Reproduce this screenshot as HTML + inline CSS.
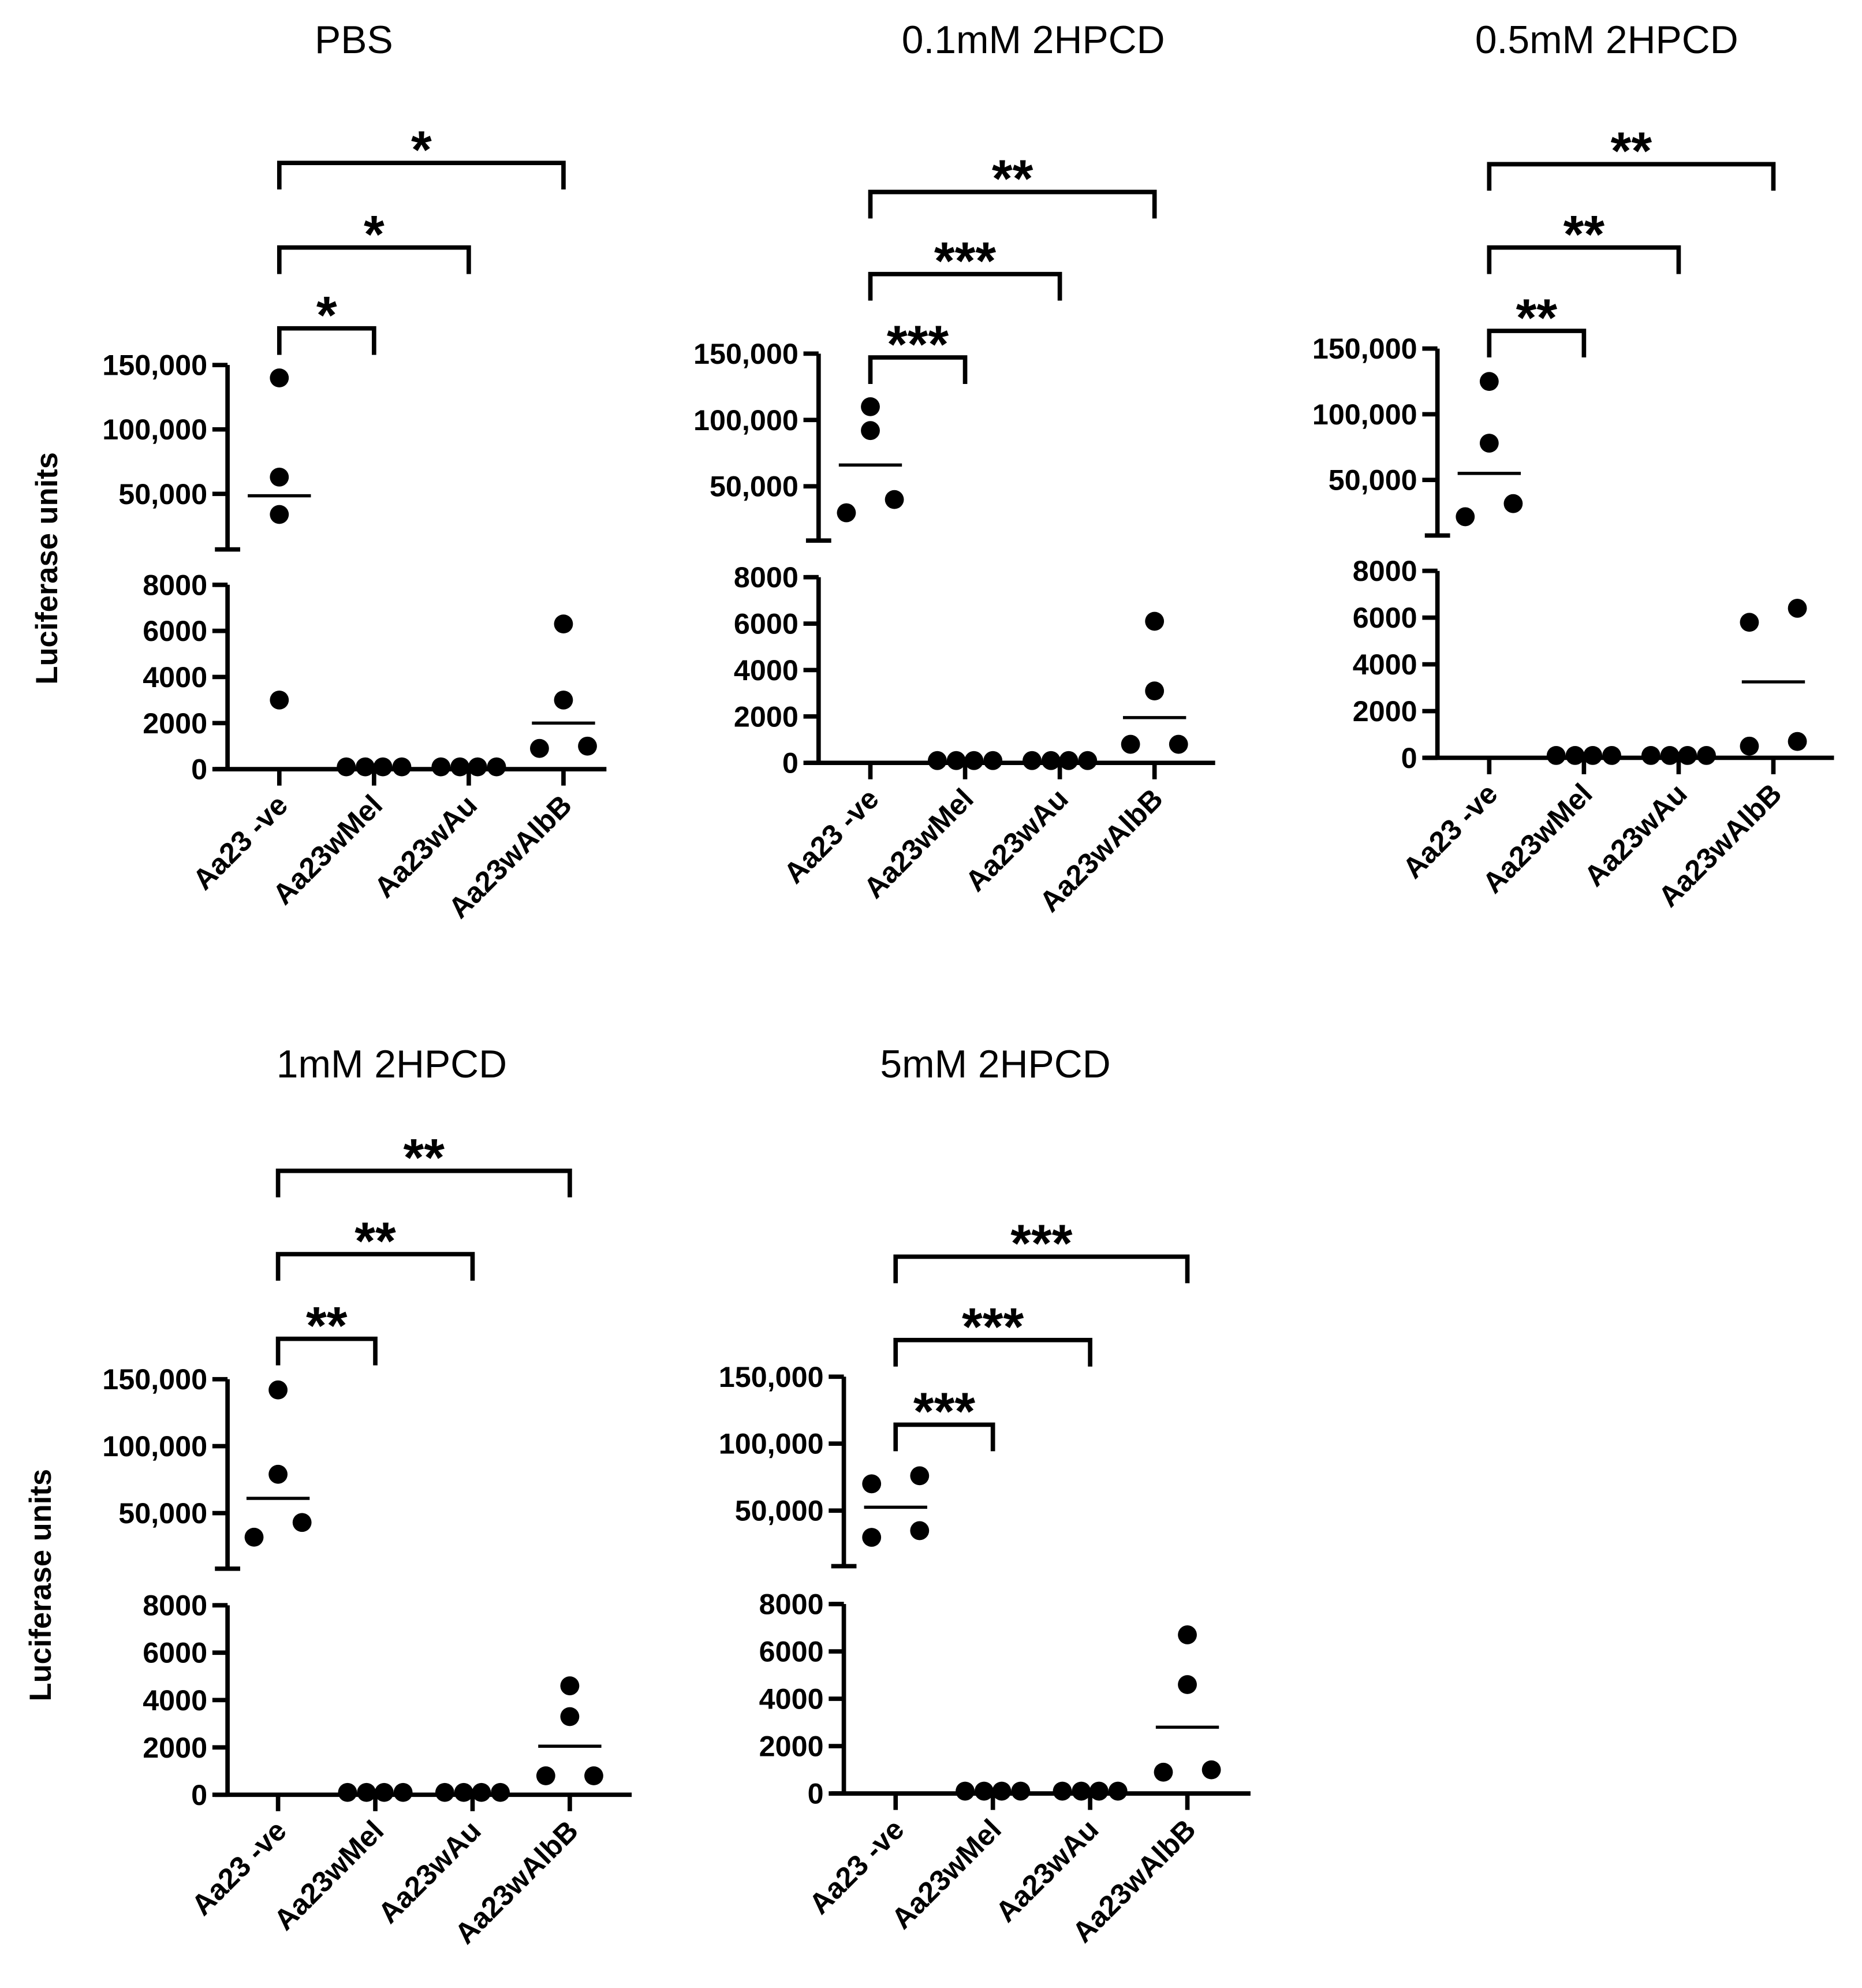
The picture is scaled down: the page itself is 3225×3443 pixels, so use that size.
<!DOCTYPE html>
<html><head><meta charset="utf-8"><style>
html,body{margin:0;padding:0;background:#fff}
svg{display:block}
text{font-family:"Liberation Sans",Arial,sans-serif;fill:#000}
.tk{font-weight:bold;font-size:23px}
.tt{font-size:31px}
</style></head><body>
<svg id="chart" width="3225" height="3443" viewBox="0 0 1474 1574" xmlns="http://www.w3.org/2000/svg"></svg>
<script>
// Data
const categories = ["Aa23 -ve","Aa23wMel","Aa23wAu","Aa23wAlbB"];
const titles = ["PBS","0.1mM 2HPCD","0.5mM 2HPCD","1mM 2HPCD","5mM 2HPCD"];
const upperTicks = [50000,100000,150000];
const lowerTicks = [0,2000,4000,6000,8000];
const upperTickLabels = ["50,000","100,000","150,000"];
const lowerTickLabels = ["0","2000","4000","6000","8000"];
const sigLabels = [
  ["*","*","*"],["***","***","**"],["**","**","**"],["**","**","**"],["***","***","***"]
];
const pbsValues = [[140000,63000,34000,3000],[100,100,100,100],[100,100,100,100],[6300,3000,900,1000]];
const hp01Values = [[110000,92000,40000,30000],[100,100,100,100],[100,100,100,100],[6100,3100,800,800]];
const hp05Values = [[125000,78000,32000,22000],[100,100,100,100],[100,100,100,100],[5800,6400,500,700]];
const hp1Values = [[142000,79000,43000,32000],[100,100,100,100],[100,100,100,100],[4600,3300,800,800]];
const hp5Values = [[70000,76000,35000,30000],[100,100,100,100],[100,100,100,100],[6700,4600,900,1000]];
const panelValues = [pbsValues,hp01Values,hp05Values,hp1Values,hp5Values];

// Layout (not data)
const layouts = [
 {ax:180,y150:289,y50:391,ub:435,y8k:463,y0:609,xe:480,c0:221,dc:75,br:[260,196,129],tx:280,ty:42,yt:true,ytx:45,yty:450,
  j0:[0,0,0,0],j3:[0,0,-19,19]},
 {ax:648,y150:280,y50:385,ub:428,y8k:457,y0:604,xe:962,c0:689,dc:75,br:[283,217,152],tx:818,ty:42,
  j0:[0,0,19,-19],j3:[0,0,-19,19]},
 {ax:1138,y150:276,y50:380,ub:424,y8k:452,y0:600,xe:1452,c0:1179,dc:75,br:[262,196,130],tx:1272,ty:42,
  j0:[0,0,19,-19],j3:[-19,19,-19,19]},
 {ax:180,y150:1092,y50:1198,ub:1242,y8k:1271,y0:1421,xe:500,c0:220,dc:77,br:[1060,993,927],tx:310,ty:853,yt:true,ytx:40,yty:1255,
  j0:[0,0,19,-19],j3:[0,0,-19,19]},
 {ax:668,y150:1090,y50:1196,ub:1240,y8k:1270,y0:1420,xe:990,c0:709,dc:77,br:[1128,1061,995],tx:788,ty:853,
  j0:[-19,19,19,-19],j3:[0,0,-19,19]}
];
const jmid=[-22,-7,7,22];
const NS="http://www.w3.org/2000/svg";
const svg=document.getElementById('chart');
function mk(tag,attrs,parent){const e=document.createElementNS(NS,tag);for(const k in attrs)e.setAttribute(k,attrs[k]);(parent||svg).appendChild(e);return e;}
function line(g,x1,y1,x2,y2,w){return mk('line',{x1,y1,x2,y2,stroke:'#000','stroke-width':w||3.5},g);}
function median(a){const s=[...a].sort((x,y)=>x-y);const n=s.length;return n%2?s[(n-1)/2]:(s[n/2-1]+s[n/2])/2;}

layouts.forEach((L,p)=>{
  const g=mk('g',{});
  
  
  const yU=v=>L.y150+(150000-v)*(L.y50-L.y150)/100000;
  const yL=v=>L.y0-(v)*(L.y0-L.y8k)/8000;
  const yv=v=>v>8000?yU(v):yL(v);
  const xc=i=>L.c0+i*L.dc;
  const t=mk('text',{x:L.tx,y:L.ty,'text-anchor':'middle',class:'tt'},g);t.textContent=titles[p];
  
  
  const ya=line(g,L.ax,yU(150000),L.ax,L.ub);
  
  
  line(g,L.ax-10,L.ub,L.ax+10,L.ub);
  const yb=line(g,L.ax,L.y8k,L.ax,L.y0);
  
  
  line(g,L.ax-10,L.y8k,L.ax,L.y8k);
  const xa=line(g,L.ax-10,L.y0,L.xe,L.y0);
  
  
  upperTicks.forEach((v,i)=>{line(g,L.ax-12,yU(v),L.ax,yU(v));
    const tx=mk('text',{x:L.ax-16,y:yU(v)+8,'text-anchor':'end',class:'tk'},g);tx.textContent=upperTickLabels[i];
    
    });
  lowerTicks.forEach((v,i)=>{line(g,L.ax-12,yL(v),L.ax,yL(v));
    const tx=mk('text',{x:L.ax-16,y:yL(v)+8,'text-anchor':'end',class:'tk'},g);tx.textContent=lowerTickLabels[i];
    
    });
  categories.forEach((c,i)=>{line(g,xc(i),L.y0,xc(i),L.y0+13);
    const tx=mk('text',{x:xc(i)+8,y:L.y0+30,'text-anchor':'end',class:'tk',transform:`rotate(-45 ${xc(i)+8} ${L.y0+30})`},g);tx.textContent=c;
    
    });
  if(L.yt){const tx=mk('text',{x:L.ytx,y:L.yty,'text-anchor':'middle',class:'tk',style:'font-size:24px',transform:`rotate(-90 ${L.ytx} ${L.yty})`},g);tx.textContent='Luciferase units';
    
    }
  panelValues[p].forEach((vals,i)=>{
    const jit = i===0 ? L.j0 : i===3 ? L.j3 : jmid;
    vals.forEach((v,k)=>{
      const d=mk('circle',{cx:xc(i)+jit[k],cy:yv(v),r:7.5,fill:'#000'},g);
      
      
    });
    const m=median(vals);
    if(i===0||i===3){const ml=line(g,xc(i)-25,yv(m),xc(i)+25,yv(m),2.5);
      
      }
  });
  L.br.forEach((by,j)=>{
    const x2=xc(j+1);
    const b=mk('path',{d:`M${xc(0)} ${by+21} V${by} H${x2} V${by+21}`,fill:'none',stroke:'#000','stroke-width':3.5},g);
    
    
    const s=mk('text',{x:(xc(0)+x2)/2,y:by+4,'text-anchor':'middle',style:'font-weight:bold;font-size:42px'},g);s.textContent=sigLabels[p][j];
    
    
  });
});
</script>
</body></html>
